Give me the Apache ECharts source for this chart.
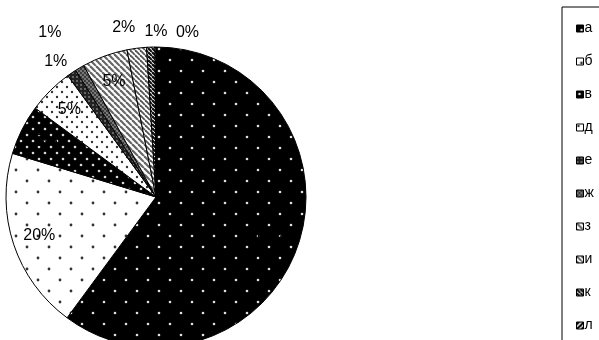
<!DOCTYPE html>
<html><head><meta charset="utf-8">
<script src="https://cdn.jsdelivr.net/npm/echarts@6/dist/echarts.min.js"></script>
<style>html,body{margin:0;padding:0;background:#fff}#c{width:599px;height:340px}</style>
</head><body><div id="c"></div>
<script>
// ---- data ----
var categories = ['а','б','в','д','е','ж','з','и','к','л'];
var values     = [60.1, 19.6, 5.4, 4.9, 1.0, 1.0, 4.9, 2.1, 0.9, 0.1];
var innerLabelCats = ['а','б','в','д','з'];
var outerLabelCats = ['е','ж','и','к','л'];

// ---- styles ----
function tile(size, bg, draw){
  var c=document.createElement('canvas'); c.width=size; c.height=size;
  var g=c.getContext('2d'); g.fillStyle=bg; g.fillRect(0,0,size,size); draw(g,size); return c;
}
function dots(col, r, pts){ return function(g){ g.fillStyle=col; pts.forEach(function(p){ g.beginPath(); g.arc(p[0],p[1],r,0,Math.PI*2); g.fill(); }); }; }
function stripes(col, w, dir){ return function(g,s){ g.strokeStyle=col; g.lineWidth=w; for(var k=-2;k<=2;k++){ g.beginPath(); if(dir>0){ g.moveTo(k*s,0); g.lineTo(k*s+s,s);} else { g.moveTo(k*s+s,0); g.lineTo(k*s,s);} g.stroke(); } }; }
var patterns = [
  tile(22,'#000', dots('#e0e0e0',1.3,[[5,5],[16,16]])),
  tile(22,'#fff', dots('#333',1.4,[[5,5],[16,16]])),
  tile(12,'#000', dots('#d8d8d8',1.3,[[3,3],[9,9]])),
  tile(10,'#fff', dots('#333',1.2,[[2,2],[7,7]])),
  tile(4,'#222', dots('#bbb',0.8,[[1,1]])),
  tile(4,'#777', dots('#222',0.9,[[1,1],[3,3]])),
  tile(6,'#fff', stripes('#666',2.2,1)),
  tile(5,'#fff', stripes('#555',1.8,1)),
  tile(4,'#fff', stripes('#111',2.2,1)),
  tile(5,'#000', stripes('#fff',1.5,-1))
];
var outerOffsets = {'е':[-3,8],'ж':[-18,-15],'и':[-10,2],'к':[6,7],'л':[32,9]};

var FONT = 'Liberation Sans, Arial, sans-serif';
var pieData = categories.map(function(n,i){
  return {name:n, value:values[i], itemStyle:{color:{image:patterns[i], repeat:'repeat'}}};
});
function labelData(list){
  return categories.map(function(n,i){
    return {name:n, value:values[i], label:{show:list.indexOf(n)>=0}};
  });
}
var chart = echarts.init(document.getElementById('c'), null, {renderer:'canvas'});
chart.setOption({
  animation:false,
  legend:{
    orient:'vertical', left:562, top:7, height:400, data:categories,
    icon:'rect', itemWidth:7, itemHeight:7, itemGap:18,
    padding:[14,40,40,14], borderColor:'#000', borderWidth:1, backgroundColor:'#fff',
    selectedMode:false,
    textStyle:{fontFamily:FONT, fontSize:14, lineHeight:15, color:'#000', padding:[0,0,0,-4]},
    itemStyle:{borderColor:'#000', borderWidth:1}
  },
  series:[
    { type:'pie', center:[156,197], radius:[0,150], startAngle:90, clockwise:true,
      data:pieData, label:{show:false}, labelLine:{show:false}, silent:true,
      itemStyle:{borderColor:'#000', borderWidth:1} },
    { type:'pie', center:[156,197], radius:[0,240], startAngle:90, clockwise:true, silent:true,
      percentPrecision:0,
      data:labelData(innerLabelCats), itemStyle:{color:'rgba(0,0,0,0)', borderWidth:0},
      label:{position:'inside', formatter:'{d}%', fontFamily:FONT, fontSize:16, color:'#000'},
      labelLine:{show:false}, legendHoverLink:false },
    { type:'pie', center:[156,197], radius:[0,340], startAngle:90, clockwise:true, silent:true,
      percentPrecision:0,
      data:labelData(outerLabelCats), itemStyle:{color:'rgba(0,0,0,0)', borderWidth:0},
      label:{position:'inside', formatter:'{d}%', fontFamily:FONT, fontSize:16, color:'#000'},
      labelLine:{show:false}, legendHoverLink:false,
      labelLayout:function(p){ var o=outerOffsets[categories[p.dataIndex]]||[0,0]; return {dx:o[0], dy:o[1]}; } }
  ]
});
</script></body></html>
